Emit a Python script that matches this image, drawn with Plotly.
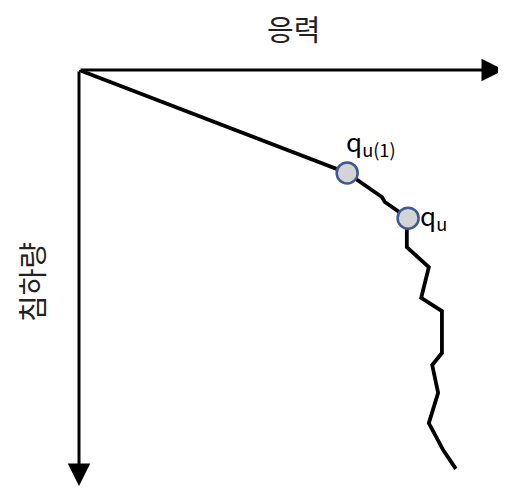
import plotly.graph_objects as go

# stress (x) vs settlement (y, downward) curve, arbitrary units
stress = [0, 63.4, 71.6, 72.3, 77.8, 77.5, 77.5, 82.7, 80.9, 85.8, 85.8, 83.5, 84.9, 82.7, 86.1, 89.1]
settlement = [0, 24.8, 30.6, 31.8, 35.7, 38.6, 42.7, 47.5, 54.9, 58.1, 68.2, 71.1, 77.8, 85.1, 91.6, 96.1]

# marked points
point_labels = ["q<sub>u(1)</sub>", "q<sub>u</sub>"]
point_stress = [63.4, 77.8]
point_settlement = [24.8, 35.7]

x_title = "응력"
y_title = "침하량"

FONT = "Noto Sans CJK KR, Malgun Gothic, sans-serif"

# plot area (page has 8px body margin)
X_MAX = 425 / 4.23
Y_MAX = 416 / 4.15

fig = go.Figure()
fig.add_trace(
    go.Scatter(
        x=stress,
        y=settlement,
        mode="lines",
        line={"color": "black", "width": 3.8},
        hoverinfo="skip",
    )
)
fig.add_trace(
    go.Scatter(
        x=point_stress,
        y=point_settlement,
        mode="markers",
        marker={
            "size": 21,
            "color": "#d4d4d4",
            "line": {"color": "#3d5797", "width": 2.5},
        },
        cliponaxis=False,
    )
)

# point labels
fig.add_annotation(
    x=point_stress[0], y=point_settlement[0], text=point_labels[0],
    showarrow=False, xanchor="left", yanchor="bottom", xshift=-3, yshift=9,
    font={"size": 26, "color": "black"},
)
fig.add_annotation(
    x=point_stress[1], y=point_settlement[1], text=point_labels[1],
    showarrow=False, xanchor="left", yanchor="middle", xshift=10, yshift=2,
    font={"size": 26, "color": "black"},
)

# axis arrows
fig.add_annotation(
    x=X_MAX, y=0, ax=0, ay=0, xref="x", yref="y", axref="x", ayref="y",
    showarrow=True, arrowhead=2, arrowsize=1.5, arrowwidth=3, arrowcolor="black", text="",
)
fig.add_annotation(
    x=0, y=Y_MAX, ax=0, ay=0, xref="x", yref="y", axref="x", ayref="y",
    showarrow=True, arrowhead=2, arrowsize=1.5, arrowwidth=3, arrowcolor="black", text="",
)

# axis titles
fig.add_annotation(
    xref="paper", yref="paper", x=(293 - 79) / 425, y=1 + (70 - 27.5) / 416,
    xanchor="center", yanchor="middle", text=x_title, showarrow=False,
    font={"size": 29, "color": "#222"},
)
fig.add_annotation(
    xref="paper", yref="paper", x=-(79 - 31) / 425, y=1 - (282 - 70) / 416,
    xanchor="center", yanchor="middle", text=y_title, showarrow=False, textangle=-90,
    font={"size": 29, "color": "#222"},
)

fig.update_layout(
    width=498,
    height=480,
    margin={"l": 71, "r": 2, "t": 62, "b": 2},
    paper_bgcolor="white",
    plot_bgcolor="white",
    showlegend=False,
    font={"family": FONT},
    xaxis={"range": [0, X_MAX], "visible": False, "fixedrange": True},
    yaxis={"range": [Y_MAX, 0], "visible": False, "fixedrange": True},
)

fig.write_html("out.html")
